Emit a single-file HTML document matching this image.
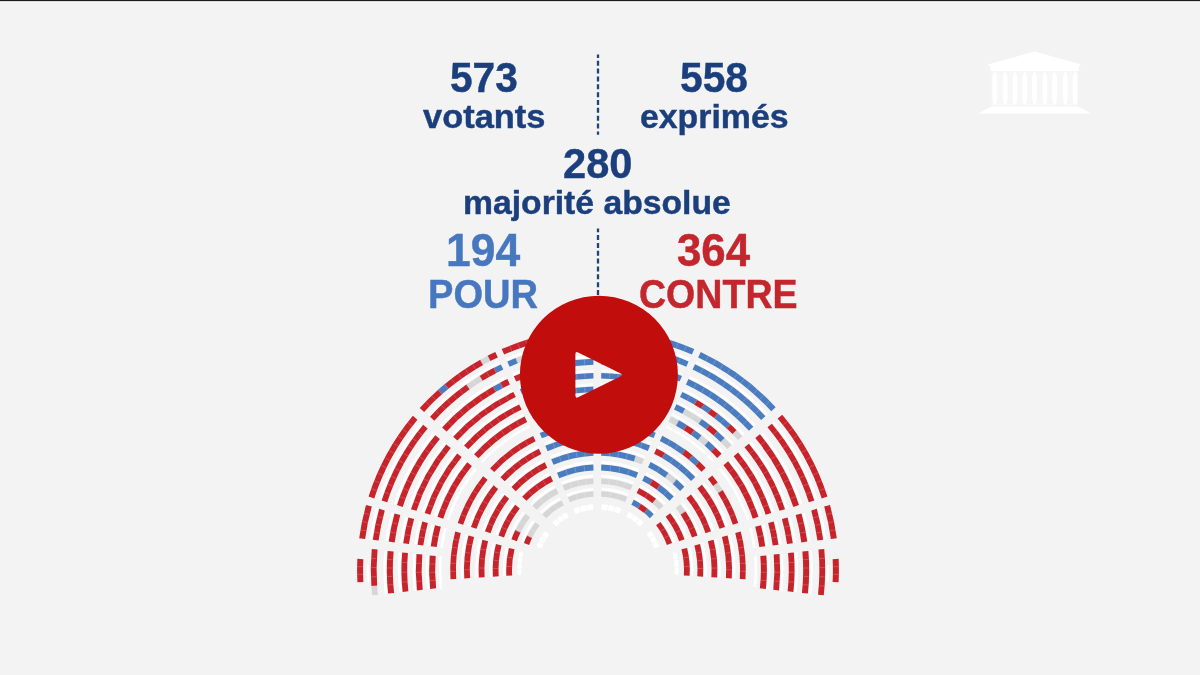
<!DOCTYPE html>
<html lang="fr"><head><meta charset="utf-8"><title>Scrutin public - Assemblée nationale</title>
<style>
html,body{margin:0;padding:0;}
body{width:1200px;height:675px;overflow:hidden;background:#f3f3f3;position:relative;font-family:"Liberation Sans",sans-serif;}
.topbar{position:absolute;left:0;top:0;width:1200px;height:3px;background:linear-gradient(#1c1c1c 0,#1c1c1c 33.3%,#dadada 33.4%,#dadada 66.6%,#f6f6f6 66.7%,#f6f6f6 100%);}
svg.layer{position:absolute;left:0;top:0;}
.t{position:absolute;white-space:nowrap;font-weight:bold;line-height:1;-webkit-text-stroke:0.45px currentColor;filter:blur(0.35px);}
svg.hemi{filter:blur(0.4px);}
svg.ov{filter:blur(0.3px);}
</style></head><body>
<div class="topbar"></div>
<div class="t" style="left:449.70px;top:56.20px;font-size:42.60px;color:#1b3f7d;transform-origin:0 0;transform:scaleX(0.9533)">573</div>
<div class="t" style="left:422.80px;top:99.80px;font-size:33.90px;color:#1b3f7d;transform-origin:0 0;transform:scaleX(1.0160)">votants</div>
<div class="t" style="left:679.90px;top:56.20px;font-size:42.60px;color:#1b3f7d;transform-origin:0 0;transform:scaleX(0.9564)">558</div>
<div class="t" style="left:639.80px;top:99.80px;font-size:33.90px;color:#1b3f7d;transform-origin:0 0;transform:scaleX(0.9980)">exprimés</div>
<div class="t" style="left:563.40px;top:142.40px;font-size:42.60px;color:#1b3f7d;transform-origin:0 0;transform:scaleX(0.9766)">280</div>
<div class="t" style="left:463.20px;top:186.30px;font-size:33.90px;color:#1b3f7d;transform-origin:0 0;transform:scaleX(0.9942)">majorité absolue</div>
<div class="t" style="left:445.70px;top:227.20px;font-size:46.30px;color:#4677bf;transform-origin:0 0;transform:scaleX(0.9597)">194</div>
<div class="t" style="left:427.50px;top:274.40px;font-size:40.80px;color:#4677bf;transform-origin:0 0;transform:scaleX(0.9335)">POUR</div>
<div class="t" style="left:677.40px;top:227.20px;font-size:46.30px;color:#c4262e;transform-origin:0 0;transform:scaleX(0.9462)">364</div>
<div class="t" style="left:639.00px;top:274.40px;font-size:40.80px;color:#c4262e;transform-origin:0 0;transform:scaleX(0.9204)">CONTRE</div>

<svg class="layer hemi" width="1200" height="675" viewBox="0 0 1200 675">
<g class="white">
<path d="M505.96 358.38A230.60 230.81 0 0 1 593.27 339.24L593.32 341.81A228.00 228.24 0 0 0 507.00 360.73Z" fill="#ffffff"/>
<path d="M512.48 373.01A214.60 214.78 0 0 1 593.26 355.27L593.32 357.90A212.00 212.15 0 0 0 513.52 375.42Z" fill="#ffffff"/>
<path d="M518.43 386.16A200.00 200.39 0 0 1 593.25 369.67L593.31 372.18A197.40 197.88 0 0 0 519.46 388.46Z" fill="#ffffff"/>
<path d="M524.30 398.56A185.60 186.80 0 0 1 593.24 383.26L593.31 385.67A183.00 184.39 0 0 0 525.33 400.78Z" fill="#ffffff"/>
<path d="M529.72 410.39A172.30 173.84 0 0 1 593.22 396.22L593.29 398.84A169.70 171.23 0 0 0 530.75 412.79Z" fill="#ffffff"/>
<path d="M534.91 422.52A159.20 160.64 0 0 1 593.59 409.43L593.66 411.95A156.70 158.11 0 0 0 535.90 424.83Z" fill="#ffffff"/>
<path d="M543.95 442.58A137.40 138.59 0 0 1 593.18 431.49L593.27 434.13A134.80 135.95 0 0 0 544.97 445.01Z" fill="#ffffff"/>
<path d="M549.91 456.10A122.80 123.78 0 0 1 593.15 446.31L593.25 448.95A120.20 121.15 0 0 0 550.93 458.53Z" fill="#ffffff"/>
<path d="M555.66 469.47A108.70 109.15 0 0 1 593.12 460.96L593.23 463.70A106.10 106.41 0 0 0 556.68 472.00Z" fill="#ffffff"/>
<path d="M561.18 482.13A95.20 95.29 0 0 1 593.07 474.84L593.21 477.44A92.60 92.68 0 0 0 562.18 484.53Z" fill="#ffffff"/>
<path d="M566.49 494.03A82.20 82.26 0 0 1 593.03 487.90L593.19 490.50A79.60 79.65 0 0 0 567.49 496.43Z" fill="#ffffff"/>
<path d="M427.52 414.58A230.60 230.81 0 0 1 499.41 361.35L500.52 363.67A228.00 228.24 0 0 0 429.44 416.30Z" fill="#ffffff"/>
<path d="M439.62 425.07A214.60 214.78 0 0 1 505.91 376.00L507.03 378.38A212.00 212.15 0 0 0 441.54 426.85Z" fill="#ffffff"/>
<path d="M450.66 434.50A200.00 200.39 0 0 1 511.85 389.16L512.97 391.42A197.40 197.88 0 0 0 452.57 436.19Z" fill="#ffffff"/>
<path d="M461.55 443.38A185.60 186.80 0 0 1 517.70 401.59L518.83 403.76A183.00 184.39 0 0 0 463.46 445.01Z" fill="#ffffff"/>
<path d="M471.61 451.85A172.30 173.84 0 0 1 523.11 413.44L524.24 415.79A169.70 171.23 0 0 0 473.52 453.63Z" fill="#ffffff"/>
<path d="M481.22 460.83A159.20 160.64 0 0 1 528.80 425.33L529.89 427.61A156.70 158.11 0 0 0 483.05 462.54Z" fill="#ffffff"/>
<path d="M498.02 474.93A137.40 138.59 0 0 1 537.28 445.67L538.43 448.04A134.80 135.95 0 0 0 499.91 476.74Z" fill="#ffffff"/>
<path d="M509.08 484.63A122.80 123.78 0 0 1 543.21 459.22L544.37 461.58A120.20 121.15 0 0 0 510.96 486.45Z" fill="#ffffff"/>
<path d="M519.77 494.22A108.70 109.15 0 0 1 548.92 472.61L550.10 475.06A106.10 106.41 0 0 0 521.64 496.12Z" fill="#ffffff"/>
<path d="M530.02 503.29A95.20 95.29 0 0 1 554.39 485.30L555.58 487.62A92.60 92.68 0 0 0 531.88 505.12Z" fill="#ffffff"/>
<path d="M539.90 511.81A82.20 82.26 0 0 1 559.64 497.25L560.86 499.55A79.60 79.65 0 0 0 541.74 513.66Z" fill="#ffffff"/>
<path d="M378.44 499.45A230.60 230.81 0 0 1 420.57 422.57L422.57 424.21A228.00 228.24 0 0 0 380.91 500.23Z" fill="#ffffff"/>
<path d="M393.77 504.04A214.60 214.78 0 0 1 432.65 433.09L434.65 434.77A212.00 212.15 0 0 0 396.24 504.85Z" fill="#ffffff"/>
<path d="M407.76 508.17A200.00 200.39 0 0 1 443.68 442.54L445.68 444.13A197.40 197.88 0 0 0 410.23 508.94Z" fill="#ffffff"/>
<path d="M421.56 512.05A185.60 186.80 0 0 1 454.55 451.47L456.56 453.00A183.00 184.39 0 0 0 424.03 512.79Z" fill="#ffffff"/>
<path d="M434.31 515.74A172.30 173.84 0 0 1 464.59 459.99L466.60 461.65A169.70 171.23 0 0 0 436.78 516.56Z" fill="#ffffff"/>
<path d="M446.75 519.87A159.20 160.64 0 0 1 474.73 468.35L476.67 469.95A156.70 158.11 0 0 0 449.13 520.66Z" fill="#ffffff"/>
<path d="M467.76 525.84A137.40 138.59 0 0 1 490.93 483.14L492.96 484.80A134.80 135.95 0 0 0 470.23 526.68Z" fill="#ffffff"/>
<path d="M481.76 530.08A122.80 123.78 0 0 1 501.95 492.88L503.98 494.52A120.20 121.15 0 0 0 484.22 530.93Z" fill="#ffffff"/>
<path d="M495.29 534.27A108.70 109.15 0 0 1 512.59 502.49L514.63 504.19A106.10 106.41 0 0 0 497.74 535.17Z" fill="#ffffff"/>
<path d="M508.25 538.24A95.20 95.29 0 0 1 522.77 511.61L524.82 513.21A92.60 92.68 0 0 0 510.70 539.10Z" fill="#ffffff"/>
<path d="M520.73 541.95A82.20 82.26 0 0 1 532.57 520.20L534.64 521.78A79.60 79.65 0 0 0 523.17 542.84Z" fill="#ffffff"/>
<path d="M369.44 539.37A230.60 230.81 0 0 1 375.90 507.93L378.40 508.62A228.00 228.24 0 0 0 372.02 539.71Z" fill="#ffffff"/>
<path d="M385.34 541.16A214.60 214.78 0 0 1 391.22 512.54L393.73 513.25A212.00 212.15 0 0 0 387.92 541.52Z" fill="#ffffff"/>
<path d="M399.86 542.77A200.00 200.39 0 0 1 405.21 516.69L407.71 517.36A197.40 197.88 0 0 0 402.43 543.11Z" fill="#ffffff"/>
<path d="M414.17 544.26A185.60 186.80 0 0 1 419.00 520.63L421.51 521.27A183.00 184.39 0 0 0 416.75 544.59Z" fill="#ffffff"/>
<path d="M427.39 545.69A172.30 173.84 0 0 1 431.74 524.38L434.25 525.06A169.70 171.23 0 0 0 429.97 546.05Z" fill="#ffffff"/>
<path d="M440.36 547.54A159.20 160.64 0 0 1 444.38 527.84L446.79 528.51A156.70 158.11 0 0 0 442.84 547.89Z" fill="#ffffff"/>
<path d="M384.74 593.94A214.60 214.78 0 0 1 384.28 550.59L386.87 550.83A212.00 212.15 0 0 0 387.32 593.65Z" fill="#ffffff"/>
<path d="M399.25 592.34A200.00 200.39 0 0 1 398.79 552.22L401.38 552.45A197.40 197.88 0 0 0 401.83 592.06Z" fill="#ffffff"/>
<path d="M413.56 590.82A185.60 186.80 0 0 1 413.10 553.78L415.69 553.99A183.00 184.39 0 0 0 416.14 590.55Z" fill="#ffffff"/>
<path d="M426.77 589.38A172.30 173.84 0 0 1 426.32 555.27L428.91 555.49A169.70 171.23 0 0 0 429.36 589.09Z" fill="#ffffff"/>
<path d="M439.92 589.02A159.20 160.64 0 0 1 439.37 556.39L441.86 556.60A156.70 158.11 0 0 0 442.40 588.72Z" fill="#ffffff"/>
<path d="M367.20 581.70A231.10 231.30 0 0 1 366.95 565.16L369.45 565.21A228.60 228.83 0 0 0 369.69 581.58Z" fill="#ffffff"/>
<path d="M460.87 578.70A137.40 138.59 0 0 1 465.17 534.55L467.68 535.22A134.80 135.95 0 0 0 463.47 578.54Z" fill="#ffffff"/>
<path d="M475.44 577.77A122.80 123.78 0 0 1 479.16 538.83L481.67 539.49A120.20 121.15 0 0 0 478.04 577.61Z" fill="#ffffff"/>
<path d="M489.51 576.85A108.70 109.15 0 0 1 492.66 543.05L495.18 543.73A106.10 106.41 0 0 0 492.11 576.68Z" fill="#ffffff"/>
<path d="M502.99 575.98A95.20 95.29 0 0 1 505.60 547.06L508.12 547.69A92.60 92.68 0 0 0 505.58 575.82Z" fill="#ffffff"/>
<path d="M601.29 339.22A230.60 230.81 0 0 1 689.97 358.35L688.94 360.70A228.00 228.24 0 0 0 601.25 341.78Z" fill="#ffffff"/>
<path d="M601.30 355.24A214.60 214.78 0 0 1 683.35 372.94L682.32 375.35A212.00 212.15 0 0 0 601.26 357.88Z" fill="#ffffff"/>
<path d="M601.30 369.64A200.00 200.39 0 0 1 677.32 386.05L676.29 388.35A197.40 197.88 0 0 0 601.26 372.15Z" fill="#ffffff"/>
<path d="M601.31 383.23A185.60 186.80 0 0 1 671.36 398.41L670.33 400.63A183.00 184.39 0 0 0 601.27 385.64Z" fill="#ffffff"/>
<path d="M601.32 396.19A172.30 173.84 0 0 1 665.85 410.20L664.83 412.61A169.70 171.23 0 0 0 601.27 398.81Z" fill="#ffffff"/>
<path d="M601.07 409.39A159.20 160.64 0 0 1 660.69 422.34L659.71 424.66A156.70 158.11 0 0 0 601.02 411.92Z" fill="#ffffff"/>
<path d="M601.35 431.45A137.40 138.59 0 0 1 651.40 442.30L650.39 444.73A134.80 135.95 0 0 0 601.29 434.09Z" fill="#ffffff"/>
<path d="M601.37 446.26A122.80 123.78 0 0 1 645.35 455.79L644.34 458.22A120.20 121.15 0 0 0 601.30 448.90Z" fill="#ffffff"/>
<path d="M601.40 460.91A108.70 109.15 0 0 1 639.49 469.12L638.50 471.65A106.10 106.41 0 0 0 601.32 463.65Z" fill="#ffffff"/>
<path d="M601.43 474.77A95.20 95.29 0 0 1 633.88 481.74L632.90 484.15A92.60 92.68 0 0 0 601.33 477.38Z" fill="#ffffff"/>
<path d="M601.46 487.82A82.20 82.26 0 0 1 628.48 493.61L627.51 496.03A79.60 79.65 0 0 0 601.35 490.42Z" fill="#ffffff"/>
<path d="M696.53 361.32A230.60 230.81 0 0 1 767.88 413.92L765.96 415.65A228.00 228.24 0 0 0 695.42 363.64Z" fill="#ffffff"/>
<path d="M689.93 375.92A214.60 214.78 0 0 1 755.84 424.48L753.93 426.27A212.00 212.15 0 0 0 688.81 378.30Z" fill="#ffffff"/>
<path d="M683.90 389.04A200.00 200.39 0 0 1 744.87 433.98L742.96 435.68A197.40 197.88 0 0 0 682.78 391.30Z" fill="#ffffff"/>
<path d="M677.96 401.42A185.60 186.80 0 0 1 734.03 442.92L732.13 444.56A183.00 184.39 0 0 0 676.84 403.60Z" fill="#ffffff"/>
<path d="M672.47 413.23A172.30 173.84 0 0 1 724.03 451.45L722.13 453.24A169.70 171.23 0 0 0 671.35 415.59Z" fill="#ffffff"/>
<path d="M666.81 425.14A159.20 160.64 0 0 1 714.45 460.46L712.62 462.18A156.70 158.11 0 0 0 665.73 427.42Z" fill="#ffffff"/>
<path d="M658.08 445.36A137.40 138.59 0 0 1 697.76 474.70L695.87 476.52A134.80 135.95 0 0 0 656.94 447.73Z" fill="#ffffff"/>
<path d="M652.07 458.86A122.80 123.78 0 0 1 686.76 484.46L684.89 486.29A120.20 121.15 0 0 0 650.92 461.23Z" fill="#ffffff"/>
<path d="M646.26 472.20A108.70 109.15 0 0 1 676.14 494.12L674.27 496.03A106.10 106.41 0 0 0 645.11 474.66Z" fill="#ffffff"/>
<path d="M640.71 484.84A95.20 95.29 0 0 1 665.95 503.26L664.09 505.09A92.60 92.68 0 0 0 639.54 487.17Z" fill="#ffffff"/>
<path d="M635.37 496.73A82.20 82.26 0 0 1 656.13 511.84L654.29 513.69A79.60 79.65 0 0 0 634.18 499.06Z" fill="#ffffff"/>
<path d="M774.53 421.49A230.60 230.81 0 0 1 817.56 499.45L815.09 500.23A228.00 228.24 0 0 0 772.53 423.14Z" fill="#ffffff"/>
<path d="M762.51 432.08A214.60 214.78 0 0 1 802.23 504.04L799.76 504.85A212.00 212.15 0 0 0 760.52 433.77Z" fill="#ffffff"/>
<path d="M751.54 441.60A200.00 200.39 0 0 1 788.24 508.17L785.77 508.94A197.40 197.88 0 0 0 749.55 443.20Z" fill="#ffffff"/>
<path d="M740.73 450.59A185.60 186.80 0 0 1 774.44 512.05L771.97 512.79A183.00 184.39 0 0 0 738.73 452.14Z" fill="#ffffff"/>
<path d="M730.75 459.17A172.30 173.84 0 0 1 761.69 515.74L759.22 516.56A169.70 171.23 0 0 0 728.74 460.84Z" fill="#ffffff"/>
<path d="M720.65 467.59A159.20 160.64 0 0 1 749.25 519.87L746.87 520.66A156.70 158.11 0 0 0 718.73 469.20Z" fill="#ffffff"/>
<path d="M704.54 482.48A137.40 138.59 0 0 1 728.24 525.84L725.77 526.68A134.80 135.95 0 0 0 702.52 484.15Z" fill="#ffffff"/>
<path d="M693.58 492.29A122.80 123.78 0 0 1 714.24 530.08L711.78 530.93A120.20 121.15 0 0 0 691.56 493.94Z" fill="#ffffff"/>
<path d="M683.00 501.97A108.70 109.15 0 0 1 700.71 534.27L698.26 535.17A106.10 106.41 0 0 0 680.97 503.68Z" fill="#ffffff"/>
<path d="M672.87 511.15A95.20 95.29 0 0 1 687.75 538.24L685.30 539.10A92.60 92.68 0 0 0 670.83 512.76Z" fill="#ffffff"/>
<path d="M663.12 519.81A82.20 82.26 0 0 1 675.27 541.95L672.83 542.84A79.60 79.65 0 0 0 661.06 521.40Z" fill="#ffffff"/>
<path d="M820.10 507.93A230.60 230.81 0 0 1 826.56 539.37L823.98 539.71A228.00 228.24 0 0 0 817.60 508.62Z" fill="#ffffff"/>
<path d="M804.78 512.54A214.60 214.78 0 0 1 810.66 541.16L808.08 541.52A212.00 212.15 0 0 0 802.27 513.25Z" fill="#ffffff"/>
<path d="M790.79 516.69A200.00 200.39 0 0 1 796.14 542.77L793.57 543.11A197.40 197.88 0 0 0 788.29 517.36Z" fill="#ffffff"/>
<path d="M777.00 520.63A185.60 186.80 0 0 1 781.83 544.26L779.25 544.59A183.00 184.39 0 0 0 774.49 521.27Z" fill="#ffffff"/>
<path d="M764.26 524.38A172.30 173.84 0 0 1 768.61 545.69L766.03 546.05A169.70 171.23 0 0 0 761.75 525.06Z" fill="#ffffff"/>
<path d="M751.62 527.84A159.20 160.64 0 0 1 755.64 547.54L753.16 547.89A156.70 158.11 0 0 0 749.21 528.51Z" fill="#ffffff"/>
<path d="M811.72 550.59A214.60 214.78 0 0 1 811.26 593.94L808.68 593.65A212.00 212.15 0 0 0 809.13 550.83Z" fill="#ffffff"/>
<path d="M797.21 552.22A200.00 200.39 0 0 1 796.75 592.34L794.17 592.06A197.40 197.88 0 0 0 794.62 552.45Z" fill="#ffffff"/>
<path d="M782.90 553.78A185.60 186.80 0 0 1 782.44 590.82L779.86 590.55A183.00 184.39 0 0 0 780.31 553.99Z" fill="#ffffff"/>
<path d="M769.68 555.27A172.30 173.84 0 0 1 769.23 589.38L766.64 589.09A169.70 171.23 0 0 0 767.09 555.49Z" fill="#ffffff"/>
<path d="M756.63 556.39A159.20 160.64 0 0 1 756.33 586.79L753.84 586.53A156.70 158.11 0 0 0 754.14 556.60Z" fill="#ffffff"/>
<path d="M829.05 565.16A231.10 231.30 0 0 1 828.80 581.70L826.31 581.58A228.60 228.83 0 0 0 826.55 565.21Z" fill="#ffffff"/>
<path d="M730.83 534.55A137.40 138.59 0 0 1 735.13 578.70L732.53 578.54A134.80 135.95 0 0 0 728.32 535.22Z" fill="#ffffff"/>
<path d="M716.84 538.83A122.80 123.78 0 0 1 720.56 577.77L717.96 577.61A120.20 121.15 0 0 0 714.33 539.49Z" fill="#ffffff"/>
<path d="M703.34 543.05A108.70 109.15 0 0 1 706.49 576.85L703.89 576.68A106.10 106.41 0 0 0 700.82 543.73Z" fill="#ffffff"/>
<path d="M690.40 547.06A95.20 95.29 0 0 1 693.01 575.98L690.42 575.82A92.60 92.68 0 0 0 687.88 547.69Z" fill="#ffffff"/>
</g>
<g class="sq" stroke="#ffffff" stroke-width="1.4" stroke-linejoin="round">
<path d="M587.53 505.63A65.20 65.21 0 0 1 592.17 505.05L592.54 509.14A61.10 61.10 0 0 0 588.19 509.69Z" fill="#ffffff"/>
<path d="M580.84 507.09A65.20 65.21 0 0 1 585.39 506.02L586.19 510.05A61.10 61.10 0 0 0 581.92 511.05Z" fill="#ffffff"/>
<path d="M574.34 509.23A65.20 65.21 0 0 1 578.76 507.69L579.97 511.62A61.10 61.10 0 0 0 575.82 513.06Z" fill="#ffffff"/>
<path d="M562.66 515.20A65.20 65.21 0 0 1 565.85 513.27L567.87 516.84A61.10 61.10 0 0 0 564.88 518.65Z" fill="#ffffff"/>
<path d="M557.85 518.62A65.20 65.21 0 0 1 560.86 516.40L563.19 519.78A61.10 61.10 0 0 0 560.38 521.85Z" fill="#ffffff"/>
<path d="M553.37 522.46A65.20 65.21 0 0 1 556.17 519.98L558.80 523.13A61.10 61.10 0 0 0 556.18 525.45Z" fill="#ffffff"/>
<path d="M542.80 535.29A65.20 65.21 0 0 1 544.95 532.09L548.29 534.48A61.10 61.10 0 0 0 546.27 537.48Z" fill="#ffffff"/>
<path d="M539.83 540.54A65.20 65.21 0 0 1 541.68 537.15L545.22 539.22A61.10 61.10 0 0 0 543.49 542.40Z" fill="#ffffff"/>
<path d="M537.36 546.04A65.20 65.21 0 0 1 538.88 542.49L542.60 544.23A61.10 61.10 0 0 0 541.17 547.55Z" fill="#ffffff"/>
<path d="M519.22 556.05A80.00 80.05 0 0 1 519.99 552.27L522.72 552.89A77.20 77.24 0 0 0 521.98 556.54Z" fill="#ffffff"/>
<path d="M518.40 561.98A80.00 80.05 0 0 1 518.88 558.16L521.65 558.57A77.20 77.24 0 0 0 521.19 562.26Z" fill="#ffffff"/>
<path d="M518.03 567.97A80.00 80.05 0 0 1 518.22 564.11L521.01 564.32A77.20 77.24 0 0 0 520.82 568.04Z" fill="#ffffff"/>
<path d="M518.10 573.96A80.00 80.05 0 0 1 518.00 570.10L520.80 570.10A77.20 77.24 0 0 0 520.89 573.82Z" fill="#ffffff"/>
<path d="M602.39 504.93A65.20 65.21 0 0 1 607.14 505.43L606.56 509.50A61.10 61.10 0 0 0 602.11 509.04Z" fill="#ffffff"/>
<path d="M609.28 505.77A65.20 65.21 0 0 1 613.95 506.77L612.95 510.75A61.10 61.10 0 0 0 608.57 509.82Z" fill="#ffffff"/>
<path d="M616.05 507.34A65.20 65.21 0 0 1 620.59 508.83L619.17 512.68A61.10 61.10 0 0 0 614.91 511.28Z" fill="#ffffff"/>
<path d="M629.14 512.71A65.20 65.21 0 0 1 632.73 514.81L630.54 518.29A61.10 61.10 0 0 0 627.18 516.32Z" fill="#ffffff"/>
<path d="M634.54 515.99A65.20 65.21 0 0 1 637.91 518.43L635.40 521.68A61.10 61.10 0 0 0 632.24 519.40Z" fill="#ffffff"/>
<path d="M639.60 519.79A65.20 65.21 0 0 1 642.71 522.54L639.90 525.53A61.10 61.10 0 0 0 636.98 522.95Z" fill="#ffffff"/>
<path d="M650.82 531.76A65.20 65.21 0 0 1 653.06 535.07L649.60 537.27A61.10 61.10 0 0 0 647.50 534.17Z" fill="#ffffff"/>
<path d="M654.19 536.92A65.20 65.21 0 0 1 656.11 540.42L652.45 542.29A61.10 61.10 0 0 0 650.66 539.00Z" fill="#ffffff"/>
<path d="M657.06 542.37A65.20 65.21 0 0 1 658.64 546.04L654.83 547.55A61.10 61.10 0 0 0 653.35 544.11Z" fill="#ffffff"/>
<path d="M676.01 552.27A80.00 80.05 0 0 1 677.10 558.02L674.33 558.44A77.20 77.24 0 0 0 673.28 552.89Z" fill="#ffffff"/>
<path d="M677.39 560.14A80.00 80.05 0 0 1 677.90 565.97L675.10 566.11A77.20 77.24 0 0 0 674.61 560.48Z" fill="#ffffff"/>
<path d="M677.98 568.11A80.00 80.05 0 0 1 677.90 573.96L675.11 573.82A77.20 77.24 0 0 0 675.18 568.17Z" fill="#ffffff"/>
</g>
<g class="gray">
<path d="M515.51 358.07A227.20 227.45 0 0 1 524.07 354.93L525.95 360.40A221.40 221.67 0 0 0 517.61 363.46Z" fill="#d6d6d6"/>
<path d="M562.49 485.27A91.80 91.88 0 0 1 593.25 478.24L593.55 484.05A86.00 86.06 0 0 0 564.74 490.63Z" fill="#d6d6d6"/>
<path d="M567.80 497.17A78.80 78.85 0 0 1 593.23 491.30L593.57 496.80A73.30 73.33 0 0 0 569.90 502.27Z" fill="#d6d6d6"/>
<path d="M479.99 359.90A240.90 241.00 0 0 1 487.79 355.70L490.54 361.00A234.90 235.04 0 0 0 482.93 365.09Z" fill="#d6d6d6"/>
<path d="M466.14 384.77A227.20 227.45 0 0 1 479.81 375.75L482.83 380.69A221.40 221.67 0 0 0 469.51 389.48Z" fill="#d6d6d6"/>
<path d="M532.45 505.68A91.80 91.88 0 0 1 555.94 488.33L558.60 493.50A86.00 86.06 0 0 0 536.59 509.75Z" fill="#d6d6d6"/>
<path d="M542.30 514.23A78.80 78.85 0 0 1 561.23 500.26L563.80 505.14A73.30 73.33 0 0 0 546.19 518.13Z" fill="#d6d6d6"/>
<path d="M515.20 530.33A91.80 91.88 0 0 1 525.45 513.70L530.04 517.26A86.00 86.06 0 0 0 520.43 532.84Z" fill="#d6d6d6"/>
<path d="M527.00 535.79A78.80 78.85 0 0 1 535.28 522.27L539.66 525.61A73.30 73.33 0 0 0 531.96 538.18Z" fill="#d6d6d6"/>
<path d="M372.22 595.35A227.20 227.45 0 0 1 371.35 585.87L377.14 585.47A221.40 221.67 0 0 0 377.98 594.71Z" fill="#d6d6d6"/>
<path d="M635.56 455.77A119.40 120.33 0 0 1 644.04 458.97L641.80 464.52A113.60 114.31 0 0 0 633.73 461.49Z" fill="#d6d6d6"/>
<path d="M601.30 478.18A91.80 91.88 0 0 1 632.60 484.90L630.42 490.28A86.00 86.06 0 0 0 601.10 483.99Z" fill="#d6d6d6"/>
<path d="M601.32 491.22A78.80 78.85 0 0 1 627.22 496.77L625.18 501.89A73.30 73.33 0 0 0 601.08 496.73Z" fill="#d6d6d6"/>
<path d="M736.42 430.02A196.60 197.11 0 0 1 742.37 436.20L738.11 439.92A190.80 191.63 0 0 0 732.33 433.91Z" fill="#d6d6d6"/>
<path d="M685.01 408.65A182.20 183.64 0 0 1 701.94 419.17L698.63 423.83A176.40 177.97 0 0 0 682.24 413.63Z" fill="#d6d6d6"/>
<path d="M724.49 437.82A182.20 183.64 0 0 1 731.54 445.07L727.29 448.93A176.40 177.97 0 0 0 720.46 441.90Z" fill="#d6d6d6"/>
<path d="M671.00 416.32A168.90 170.42 0 0 1 679.02 420.47L676.14 425.78A162.90 164.37 0 0 0 668.41 421.78Z" fill="#d6d6d6"/>
<path d="M701.40 435.25A168.90 170.42 0 0 1 708.57 441.17L704.64 445.75A162.90 164.37 0 0 0 697.73 440.03Z" fill="#d6d6d6"/>
<path d="M668.32 472.75A119.40 120.33 0 0 1 676.72 479.52L672.90 484.05A113.60 114.31 0 0 0 664.90 477.61Z" fill="#d6d6d6"/>
<path d="M655.88 498.68A91.80 91.88 0 0 1 663.52 505.65L659.38 509.72A86.00 86.06 0 0 0 652.22 503.19Z" fill="#d6d6d6"/>
<path d="M717.62 482.41A147.80 149.13 0 0 1 722.83 490.15L718.01 493.24A142.10 143.36 0 0 0 713.01 485.80Z" fill="#d6d6d6"/>
<path d="M680.34 504.19A105.30 105.58 0 0 1 685.61 511.43L680.78 514.75A99.50 99.60 0 0 0 675.81 507.92Z" fill="#d6d6d6"/>
</g>
<g class="blue">
<path d="M523.83 355.01A227.20 227.45 0 0 1 593.34 342.59L593.46 348.38A221.40 221.67 0 0 0 525.72 360.48Z" fill="#4b7cc0"/>
<path d="M507.32 361.45A227.20 227.45 0 0 1 515.74 357.98L517.84 363.37A221.40 221.67 0 0 0 509.63 366.75Z" fill="#4b7cc0"/>
<path d="M522.26 372.72A211.20 211.34 0 0 1 593.33 358.71L593.47 364.65A205.20 205.40 0 0 0 524.41 378.26Z" fill="#4b7cc0"/>
<path d="M519.78 389.16A196.60 197.11 0 0 1 593.33 372.95L593.47 378.43A190.80 191.63 0 0 0 522.09 394.19Z" fill="#4b7cc0"/>
<path d="M525.65 401.46A182.20 183.64 0 0 1 593.33 386.42L593.47 392.08A176.40 177.97 0 0 0 527.95 406.66Z" fill="#4b7cc0"/>
<path d="M531.07 413.53A168.90 170.42 0 0 1 593.32 399.64L593.48 405.69A162.90 164.37 0 0 0 533.45 419.09Z" fill="#4b7cc0"/>
<path d="M539.66 432.98A147.80 149.13 0 0 1 593.31 420.95L593.49 426.71A142.10 143.36 0 0 0 541.91 438.28Z" fill="#4b7cc0"/>
<path d="M545.29 445.75A134.00 135.14 0 0 1 593.30 434.94L593.50 440.82A128.20 129.26 0 0 0 547.57 451.16Z" fill="#4b7cc0"/>
<path d="M551.24 459.28A119.40 120.33 0 0 1 593.29 449.76L593.51 455.77A113.60 114.31 0 0 0 553.51 464.82Z" fill="#4b7cc0"/>
<path d="M556.99 472.76A105.30 105.58 0 0 1 593.27 464.53L593.53 470.50A99.50 99.60 0 0 0 559.25 478.27Z" fill="#4b7cc0"/>
<path d="M438.03 389.81A240.90 241.00 0 0 1 444.76 384.05L448.57 388.64A234.90 235.04 0 0 0 442.01 394.26Z" fill="#4b7cc0"/>
<path d="M493.64 367.96A227.20 227.45 0 0 1 500.86 364.38L503.34 369.61A221.40 221.67 0 0 0 496.30 373.10Z" fill="#4b7cc0"/>
<path d="M492.90 386.68A211.20 211.34 0 0 1 500.29 382.64L503.06 387.90A205.20 205.40 0 0 0 495.89 391.84Z" fill="#4b7cc0"/>
<path d="M601.24 329.02A240.90 241.00 0 0 1 694.28 349.08L691.88 354.54A234.90 235.04 0 0 0 601.16 334.98Z" fill="#4b7cc0"/>
<path d="M601.24 342.57A227.20 227.45 0 0 1 688.62 361.42L686.30 366.73A221.40 221.67 0 0 0 601.16 348.36Z" fill="#4b7cc0"/>
<path d="M601.25 358.68A211.20 211.34 0 0 1 682.00 376.10L679.62 381.55A205.20 205.40 0 0 0 601.15 364.62Z" fill="#4b7cc0"/>
<path d="M601.25 372.92A196.60 197.11 0 0 1 675.97 389.06L673.67 394.09A190.80 191.63 0 0 0 601.15 378.40Z" fill="#4b7cc0"/>
<path d="M601.25 386.39A182.20 183.64 0 0 1 670.01 401.31L667.72 406.52A176.40 177.97 0 0 0 601.15 392.05Z" fill="#4b7cc0"/>
<path d="M601.26 399.61A168.90 170.42 0 0 1 664.51 413.35L662.15 418.91A162.90 164.37 0 0 0 601.14 405.66Z" fill="#4b7cc0"/>
<path d="M601.26 420.91A147.80 149.13 0 0 1 655.79 432.74L653.56 438.05A142.10 143.36 0 0 0 601.14 426.68Z" fill="#4b7cc0"/>
<path d="M601.27 434.90A134.00 135.14 0 0 1 650.08 445.48L647.82 450.90A128.20 129.26 0 0 0 601.13 440.78Z" fill="#4b7cc0"/>
<path d="M601.28 449.71A119.40 120.33 0 0 1 635.80 455.86L633.97 461.57A113.60 114.31 0 0 0 601.12 455.73Z" fill="#4b7cc0"/>
<path d="M601.29 464.47A105.30 105.58 0 0 1 638.20 472.42L635.98 477.94A99.50 99.60 0 0 0 601.11 470.45Z" fill="#4b7cc0"/>
<path d="M700.73 352.01A240.90 241.00 0 0 1 775.67 407.24L771.24 411.27A234.90 235.04 0 0 0 698.17 357.40Z" fill="#4b7cc0"/>
<path d="M695.07 364.35A227.20 227.45 0 0 1 765.37 416.18L761.10 420.10A221.40 221.67 0 0 0 692.60 369.58Z" fill="#4b7cc0"/>
<path d="M688.47 379.03A211.20 211.34 0 0 1 753.34 426.82L748.93 430.84A205.20 205.40 0 0 0 685.90 384.40Z" fill="#4b7cc0"/>
<path d="M682.44 392.00A196.60 197.11 0 0 1 697.14 399.79L694.22 404.52A190.80 191.63 0 0 0 679.95 396.95Z" fill="#4b7cc0"/>
<path d="M704.02 404.01A196.60 197.11 0 0 1 711.13 408.80L707.80 413.28A190.80 191.63 0 0 0 700.89 408.62Z" fill="#4b7cc0"/>
<path d="M717.63 413.58A196.60 197.11 0 0 1 730.57 424.45L726.66 428.50A190.80 191.63 0 0 0 714.10 417.93Z" fill="#4b7cc0"/>
<path d="M676.49 404.27A182.20 183.64 0 0 1 685.24 408.77L682.46 413.75A176.40 177.97 0 0 0 673.99 409.39Z" fill="#4b7cc0"/>
<path d="M701.73 419.02A182.20 183.64 0 0 1 709.85 425.03L706.29 429.51A176.40 177.97 0 0 0 698.43 423.68Z" fill="#4b7cc0"/>
<path d="M717.24 431.15A182.20 183.64 0 0 1 724.67 438.00L720.64 442.08A176.40 177.97 0 0 0 713.45 435.43Z" fill="#4b7cc0"/>
<path d="M678.80 420.34A168.90 170.42 0 0 1 686.81 425.04L683.65 430.19A162.90 164.37 0 0 0 675.93 425.66Z" fill="#4b7cc0"/>
<path d="M694.14 429.88A168.90 170.42 0 0 1 701.61 435.41L697.92 440.19A162.90 164.37 0 0 0 690.72 434.85Z" fill="#4b7cc0"/>
<path d="M708.38 441.01A168.90 170.42 0 0 1 715.22 447.31L711.06 451.66A162.90 164.37 0 0 0 704.46 445.59Z" fill="#4b7cc0"/>
<path d="M662.29 435.72A147.80 149.13 0 0 1 685.44 449.77L682.07 454.42A142.10 143.36 0 0 0 659.81 440.91Z" fill="#4b7cc0"/>
<path d="M692.35 455.21A147.80 149.13 0 0 1 699.30 461.41L695.39 465.61A142.10 143.36 0 0 0 688.71 459.65Z" fill="#4b7cc0"/>
<path d="M664.89 452.90A134.00 135.14 0 0 1 695.29 477.07L691.08 481.12A128.20 129.26 0 0 0 662.00 458.00Z" fill="#4b7cc0"/>
<path d="M650.57 461.96A119.40 120.33 0 0 1 668.53 472.90L665.10 477.76A113.60 114.31 0 0 0 648.02 467.36Z" fill="#4b7cc0"/>
<path d="M676.53 479.35A119.40 120.33 0 0 1 684.31 486.85L680.11 491.01A113.60 114.31 0 0 0 672.71 483.89Z" fill="#4b7cc0"/>
<path d="M644.75 475.40A105.30 105.58 0 0 1 652.64 479.75L649.63 484.86A99.50 99.60 0 0 0 642.18 480.76Z" fill="#4b7cc0"/>
<path d="M659.92 484.61A105.30 105.58 0 0 1 673.69 496.60L669.52 500.76A99.50 99.60 0 0 0 656.51 489.44Z" fill="#4b7cc0"/>
<path d="M633.82 499.77A78.80 78.85 0 0 1 640.95 503.89L637.95 508.52A73.30 73.33 0 0 0 631.32 504.68Z" fill="#4b7cc0"/>
<path d="M647.41 508.58A78.80 78.85 0 0 1 653.73 514.25L649.84 518.15A73.30 73.33 0 0 0 643.96 512.87Z" fill="#4b7cc0"/>
</g>
<g class="red">
<path d="M501.74 349.08A240.90 241.00 0 0 1 593.34 329.05L593.46 335.00A234.90 235.04 0 0 0 504.13 354.54Z" fill="#c6232b"/>
<path d="M513.83 376.17A211.20 211.34 0 0 1 522.49 372.63L524.64 378.18A205.20 205.40 0 0 0 516.23 381.61Z" fill="#c6232b"/>
<path d="M487.57 355.82A240.90 241.00 0 0 1 495.28 352.01L497.84 357.39A234.90 235.04 0 0 0 490.32 361.11Z" fill="#c6232b"/>
<path d="M444.56 384.21A240.90 241.00 0 0 1 480.21 359.77L483.15 364.97A234.90 235.04 0 0 0 448.38 388.80Z" fill="#c6232b"/>
<path d="M419.68 407.96A240.90 241.00 0 0 1 438.22 389.64L442.20 394.10A234.90 235.04 0 0 0 424.12 411.96Z" fill="#c6232b"/>
<path d="M479.59 375.88A227.20 227.45 0 0 1 493.86 367.85L496.52 372.99A221.40 221.67 0 0 0 482.62 380.82Z" fill="#c6232b"/>
<path d="M430.03 416.83A227.20 227.45 0 0 1 466.35 384.62L469.71 389.34A221.40 221.67 0 0 0 434.32 420.73Z" fill="#c6232b"/>
<path d="M500.06 382.76A211.20 211.34 0 0 1 507.37 379.11L509.94 384.47A205.20 205.40 0 0 0 502.85 388.02Z" fill="#c6232b"/>
<path d="M442.13 427.39A211.20 211.34 0 0 1 493.12 386.56L496.10 391.71A205.20 205.40 0 0 0 446.56 431.40Z" fill="#c6232b"/>
<path d="M453.16 436.72A196.60 197.11 0 0 1 513.31 392.12L515.81 397.06A190.80 191.63 0 0 0 457.43 440.42Z" fill="#c6232b"/>
<path d="M464.05 445.52A182.20 183.64 0 0 1 519.18 404.43L521.68 409.54A176.40 177.97 0 0 0 468.31 449.36Z" fill="#c6232b"/>
<path d="M474.10 454.18A168.90 170.42 0 0 1 524.59 416.52L527.19 421.97A162.90 164.37 0 0 0 478.50 458.29Z" fill="#c6232b"/>
<path d="M490.06 468.13A147.80 149.13 0 0 1 533.17 435.98L535.67 441.17A142.10 143.36 0 0 0 494.22 472.07Z" fill="#c6232b"/>
<path d="M500.50 477.30A134.00 135.14 0 0 1 538.79 448.77L541.35 454.04A128.20 129.26 0 0 0 504.72 481.33Z" fill="#c6232b"/>
<path d="M511.54 487.00A119.40 120.33 0 0 1 544.72 462.31L547.31 467.70A113.60 114.31 0 0 0 515.74 491.16Z" fill="#c6232b"/>
<path d="M522.22 496.70A105.30 105.58 0 0 1 550.46 475.80L553.08 481.13A99.50 99.60 0 0 0 526.39 500.85Z" fill="#c6232b"/>
<path d="M368.55 496.59A240.90 241.00 0 0 1 412.84 415.83L417.45 419.64A234.90 235.04 0 0 0 374.26 498.40Z" fill="#c6232b"/>
<path d="M381.67 500.47A227.20 227.45 0 0 1 423.19 424.71L427.65 428.41A221.40 221.67 0 0 0 387.20 502.24Z" fill="#c6232b"/>
<path d="M397.00 505.10A211.20 211.34 0 0 1 435.27 435.28L439.89 439.07A205.20 205.40 0 0 0 402.71 506.93Z" fill="#c6232b"/>
<path d="M410.99 509.18A196.60 197.11 0 0 1 446.30 444.62L450.77 448.11A190.80 191.63 0 0 0 416.51 510.87Z" fill="#c6232b"/>
<path d="M424.79 513.03A182.20 183.64 0 0 1 457.18 453.48L461.66 457.07A176.40 177.97 0 0 0 430.30 514.78Z" fill="#c6232b"/>
<path d="M437.54 516.81A168.90 170.42 0 0 1 467.22 462.16L471.86 465.99A162.90 164.37 0 0 0 443.24 518.70Z" fill="#c6232b"/>
<path d="M457.76 522.93A147.80 149.13 0 0 1 483.16 476.13L487.59 479.76A142.10 143.36 0 0 0 463.16 524.75Z" fill="#c6232b"/>
<path d="M470.98 526.94A134.00 135.14 0 0 1 493.58 485.30L498.10 488.99A128.20 129.26 0 0 0 476.48 528.81Z" fill="#c6232b"/>
<path d="M484.98 531.19A119.40 120.33 0 0 1 504.61 495.03L509.14 498.78A113.60 114.31 0 0 0 490.47 533.13Z" fill="#c6232b"/>
<path d="M498.50 535.44A105.30 105.58 0 0 1 515.26 504.70L519.82 508.40A99.50 99.60 0 0 0 503.98 537.40Z" fill="#c6232b"/>
<path d="M511.45 539.37A91.80 91.88 0 0 1 515.31 530.10L520.53 532.62A86.00 86.06 0 0 0 516.92 541.31Z" fill="#c6232b"/>
<path d="M523.92 543.11A78.80 78.85 0 0 1 527.12 535.56L532.06 537.97A73.30 73.33 0 0 0 529.09 544.99Z" fill="#c6232b"/>
<path d="M359.19 538.30A240.90 241.00 0 0 1 366.05 504.93L371.82 506.54A234.90 235.04 0 0 0 365.14 539.08Z" fill="#c6232b"/>
<path d="M372.81 539.82A227.20 227.45 0 0 1 379.17 508.83L384.76 510.38A221.40 221.67 0 0 0 378.56 540.59Z" fill="#c6232b"/>
<path d="M388.71 541.62A211.20 211.34 0 0 1 394.50 513.46L400.28 515.05A205.20 205.40 0 0 0 394.66 542.42Z" fill="#c6232b"/>
<path d="M403.22 543.21A196.60 197.11 0 0 1 408.48 517.56L414.08 519.02A190.80 191.63 0 0 0 408.97 543.96Z" fill="#c6232b"/>
<path d="M417.54 544.70A182.20 183.64 0 0 1 422.28 521.46L427.87 522.96A176.40 177.97 0 0 0 423.28 545.48Z" fill="#c6232b"/>
<path d="M430.76 546.17A168.90 170.42 0 0 1 435.02 525.28L440.81 526.86A162.90 164.37 0 0 0 436.70 547.01Z" fill="#c6232b"/>
<path d="M371.37 586.12A227.20 227.45 0 0 1 371.76 549.09L377.54 549.62A221.40 221.67 0 0 0 377.16 585.71Z" fill="#c6232b"/>
<path d="M388.12 593.56A211.20 211.34 0 0 1 387.66 550.90L393.64 551.44A205.20 205.40 0 0 0 394.08 592.90Z" fill="#c6232b"/>
<path d="M402.63 591.97A196.60 197.11 0 0 1 402.18 552.52L407.95 553.00A190.80 191.63 0 0 0 408.39 591.36Z" fill="#c6232b"/>
<path d="M416.94 590.47A182.20 183.64 0 0 1 416.49 554.06L422.27 554.55A176.40 177.97 0 0 0 422.70 589.84Z" fill="#c6232b"/>
<path d="M430.15 589.00A168.90 170.42 0 0 1 429.71 555.56L435.69 556.07A162.90 164.37 0 0 0 436.12 588.32Z" fill="#c6232b"/>
<path d="M357.41 582.19A240.90 241.00 0 0 1 357.36 558.86L363.35 559.13A234.90 235.04 0 0 0 363.40 581.89Z" fill="#c6232b"/>
<path d="M450.49 579.36A147.80 149.13 0 0 1 455.24 531.40L460.74 532.90A142.10 143.36 0 0 0 456.18 579.00Z" fill="#c6232b"/>
<path d="M464.26 578.49A134.00 135.14 0 0 1 468.46 535.43L474.06 536.94A128.20 129.26 0 0 0 470.05 578.12Z" fill="#c6232b"/>
<path d="M478.84 577.56A119.40 120.33 0 0 1 482.45 539.70L488.06 541.21A113.60 114.31 0 0 0 484.62 577.18Z" fill="#c6232b"/>
<path d="M492.91 576.63A105.30 105.58 0 0 1 495.96 543.93L501.58 545.41A99.50 99.60 0 0 0 498.70 576.25Z" fill="#c6232b"/>
<path d="M506.38 575.77A91.80 91.88 0 0 1 508.90 547.89L514.53 549.28A86.00 86.06 0 0 0 512.17 575.40Z" fill="#c6232b"/>
<path d="M696.92 399.66A196.60 197.11 0 0 1 704.23 404.15L701.10 408.76A190.80 191.63 0 0 0 694.00 404.40Z" fill="#c6232b"/>
<path d="M710.93 408.65A196.60 197.11 0 0 1 717.83 413.74L714.30 418.08A190.80 191.63 0 0 0 707.59 413.14Z" fill="#c6232b"/>
<path d="M730.39 424.28A196.60 197.11 0 0 1 736.60 430.20L732.51 434.09A190.80 191.63 0 0 0 726.48 428.33Z" fill="#c6232b"/>
<path d="M709.65 424.87A182.20 183.64 0 0 1 717.43 431.31L713.63 435.60A176.40 177.97 0 0 0 706.09 429.35Z" fill="#c6232b"/>
<path d="M686.59 424.90A168.90 170.42 0 0 1 694.34 430.02L690.92 434.99A162.90 164.37 0 0 0 683.45 430.06Z" fill="#c6232b"/>
<path d="M715.04 447.13A168.90 170.42 0 0 1 721.54 453.79L717.15 457.92A162.90 164.37 0 0 0 710.88 451.49Z" fill="#c6232b"/>
<path d="M685.24 449.62A147.80 149.13 0 0 1 692.55 455.38L688.90 459.81A142.10 143.36 0 0 0 681.87 454.28Z" fill="#c6232b"/>
<path d="M699.11 461.23A147.80 149.13 0 0 1 705.68 467.85L701.52 471.80A142.10 143.36 0 0 0 695.22 465.44Z" fill="#c6232b"/>
<path d="M656.59 448.46A134.00 135.14 0 0 1 665.11 453.03L662.21 458.12A128.20 129.26 0 0 0 654.06 453.75Z" fill="#c6232b"/>
<path d="M652.42 479.62A105.30 105.58 0 0 1 660.13 484.76L656.71 489.58A99.50 99.60 0 0 0 649.42 484.73Z" fill="#c6232b"/>
<path d="M639.18 487.89A91.80 91.88 0 0 1 656.08 498.84L652.41 503.35A86.00 86.06 0 0 0 636.58 493.08Z" fill="#c6232b"/>
<path d="M640.73 503.75A78.80 78.85 0 0 1 647.61 508.74L644.15 513.02A73.30 73.33 0 0 0 637.75 508.39Z" fill="#c6232b"/>
<path d="M782.22 414.70A240.90 241.00 0 0 1 827.45 496.59L821.74 498.40A234.90 235.04 0 0 0 777.63 418.54Z" fill="#c6232b"/>
<path d="M771.92 423.65A227.20 227.45 0 0 1 814.33 500.47L808.80 502.24A221.40 221.67 0 0 0 767.48 427.37Z" fill="#c6232b"/>
<path d="M759.90 434.29A211.20 211.34 0 0 1 799.00 505.10L793.29 506.93A205.20 205.40 0 0 0 755.30 438.10Z" fill="#c6232b"/>
<path d="M748.93 443.70A196.60 197.11 0 0 1 785.01 509.18L779.49 510.87A190.80 191.63 0 0 0 744.48 447.21Z" fill="#c6232b"/>
<path d="M738.12 452.61A182.20 183.64 0 0 1 771.21 513.03L765.70 514.78A176.40 177.97 0 0 0 733.66 456.23Z" fill="#c6232b"/>
<path d="M728.13 461.35A168.90 170.42 0 0 1 758.46 516.81L752.76 518.70A162.90 164.37 0 0 0 723.50 465.21Z" fill="#c6232b"/>
<path d="M712.27 475.42A147.80 149.13 0 0 1 717.77 482.62L713.15 486.00A142.10 143.36 0 0 0 707.86 479.08Z" fill="#c6232b"/>
<path d="M722.69 489.93A147.80 149.13 0 0 1 738.24 522.93L732.84 524.75A142.10 143.36 0 0 0 717.88 493.03Z" fill="#c6232b"/>
<path d="M701.90 484.66A134.00 135.14 0 0 1 725.02 526.94L719.52 528.81A128.20 129.26 0 0 0 697.41 488.38Z" fill="#c6232b"/>
<path d="M690.94 494.45A119.40 120.33 0 0 1 711.02 531.19L705.53 533.13A113.60 114.31 0 0 0 686.42 498.23Z" fill="#c6232b"/>
<path d="M685.47 511.22A105.30 105.58 0 0 1 697.50 535.44L692.02 537.40A99.50 99.60 0 0 0 680.65 514.54Z" fill="#c6232b"/>
<path d="M670.20 513.26A91.80 91.88 0 0 1 684.55 539.37L679.08 541.31A86.00 86.06 0 0 0 665.64 516.85Z" fill="#c6232b"/>
<path d="M660.43 521.89A78.80 78.85 0 0 1 672.08 543.11L666.91 544.99A73.30 73.33 0 0 0 656.07 525.25Z" fill="#c6232b"/>
<path d="M829.95 504.93A240.90 241.00 0 0 1 836.81 538.30L830.86 539.08A234.90 235.04 0 0 0 824.18 506.54Z" fill="#c6232b"/>
<path d="M816.83 508.83A227.20 227.45 0 0 1 823.19 539.82L817.44 540.59A221.40 221.67 0 0 0 811.24 510.38Z" fill="#c6232b"/>
<path d="M801.50 513.46A211.20 211.34 0 0 1 807.29 541.62L801.34 542.42A205.20 205.40 0 0 0 795.72 515.05Z" fill="#c6232b"/>
<path d="M787.52 517.56A196.60 197.11 0 0 1 792.78 543.21L787.03 543.96A190.80 191.63 0 0 0 781.92 519.02Z" fill="#c6232b"/>
<path d="M773.72 521.46A182.20 183.64 0 0 1 778.46 544.70L772.72 545.48A176.40 177.97 0 0 0 768.13 522.96Z" fill="#c6232b"/>
<path d="M760.98 525.28A168.90 170.42 0 0 1 765.24 546.17L759.30 547.01A162.90 164.37 0 0 0 755.19 526.86Z" fill="#c6232b"/>
<path d="M824.24 549.09A227.20 227.45 0 0 1 823.78 595.35L818.02 594.71A221.40 221.67 0 0 0 818.46 549.62Z" fill="#c6232b"/>
<path d="M808.34 550.90A211.20 211.34 0 0 1 807.88 593.56L801.92 592.90A205.20 205.40 0 0 0 802.36 551.44Z" fill="#c6232b"/>
<path d="M793.82 552.52A196.60 197.11 0 0 1 793.37 591.97L787.61 591.36A190.80 191.63 0 0 0 788.05 553.00Z" fill="#c6232b"/>
<path d="M779.51 554.06A182.20 183.64 0 0 1 779.06 590.47L773.30 589.84A176.40 177.97 0 0 0 773.73 554.55Z" fill="#c6232b"/>
<path d="M766.29 555.56A168.90 170.42 0 0 1 765.85 589.00L759.88 588.32A162.90 164.37 0 0 0 760.31 556.07Z" fill="#c6232b"/>
<path d="M838.64 558.86A240.90 241.00 0 0 1 838.59 582.19L832.60 581.89A234.90 235.04 0 0 0 832.65 559.13Z" fill="#c6232b"/>
<path d="M740.76 531.40A147.80 149.13 0 0 1 745.51 579.36L739.82 579.00A142.10 143.36 0 0 0 735.26 532.90Z" fill="#c6232b"/>
<path d="M727.54 535.43A134.00 135.14 0 0 1 731.74 578.49L725.95 578.12A128.20 129.26 0 0 0 721.94 536.94Z" fill="#c6232b"/>
<path d="M713.55 539.70A119.40 120.33 0 0 1 717.16 577.56L711.38 577.18A113.60 114.31 0 0 0 707.94 541.21Z" fill="#c6232b"/>
<path d="M700.04 543.93A105.30 105.58 0 0 1 703.09 576.63L697.30 576.25A99.50 99.60 0 0 0 694.42 545.41Z" fill="#c6232b"/>
<path d="M687.10 547.89A91.80 91.88 0 0 1 689.62 575.77L683.83 575.40A86.00 86.06 0 0 0 681.47 549.28Z" fill="#c6232b"/>
</g>
<g class="sep" stroke="#ffffff" stroke-opacity="0.28" stroke-width="0.7" fill="none">
<path d="M584.79 329.66L585.08 335.02"/>
<path d="M576.24 330.29L576.73 335.62"/>
<path d="M567.72 331.21L568.40 336.53"/>
<path d="M559.24 332.44L560.11 337.73"/>
<path d="M550.81 333.97L551.87 339.23"/>
<path d="M542.44 335.81L543.69 341.02"/>
<path d="M534.14 337.93L535.58 343.10"/>
<path d="M525.92 340.35L527.54 345.47"/>
<path d="M517.80 343.07L519.60 348.12"/>
<path d="M509.77 346.07L511.75 351.05"/>
<path d="M584.50 343.24L584.81 348.42"/>
<path d="M575.68 343.94L576.19 349.11"/>
<path d="M566.89 344.99L567.61 350.12"/>
<path d="M558.15 346.37L559.06 351.48"/>
<path d="M549.47 348.10L550.58 353.17"/>
<path d="M540.86 350.16L542.17 355.18"/>
<path d="M532.34 352.56L533.85 357.52"/>
<path d="M523.92 355.29L525.62 360.19"/>
<path d="M515.62 358.34L517.51 363.18"/>
<path d="M584.26 359.41L584.61 364.75"/>
<path d="M575.21 360.20L575.79 365.52"/>
<path d="M566.20 361.38L567.01 366.66"/>
<path d="M557.25 362.94L558.29 368.19"/>
<path d="M548.37 364.89L549.64 370.09"/>
<path d="M539.59 367.22L541.09 372.36"/>
<path d="M530.91 369.92L532.63 374.99"/>
<path d="M522.36 373.00L524.30 377.99"/>
<path d="M584.94 373.62L585.29 378.52"/>
<path d="M576.57 374.36L577.14 379.24"/>
<path d="M568.23 375.46L569.02 380.31"/>
<path d="M559.95 376.91L560.96 381.73"/>
<path d="M551.74 378.72L552.97 383.50"/>
<path d="M543.62 380.89L545.06 385.60"/>
<path d="M535.59 383.39L537.25 388.05"/>
<path d="M527.68 386.24L529.55 390.83"/>
<path d="M584.64 387.13L585.02 392.20"/>
<path d="M575.98 387.98L576.61 393.03"/>
<path d="M567.37 389.25L568.25 394.27"/>
<path d="M558.84 390.94L559.95 395.90"/>
<path d="M550.39 393.03L551.75 397.94"/>
<path d="M542.05 395.53L543.64 400.37"/>
<path d="M533.83 398.42L535.67 403.18"/>
<path d="M584.19 400.45L584.64 405.88"/>
<path d="M575.10 401.46L575.84 406.85"/>
<path d="M566.08 402.96L567.10 408.30"/>
<path d="M557.15 404.95L558.46 410.23"/>
<path d="M548.34 407.43L549.93 412.63"/>
<path d="M539.68 410.38L541.55 415.49"/>
<path d="M584.14 421.83L584.62 426.97"/>
<path d="M575.02 422.99L575.82 428.09"/>
<path d="M565.99 424.72L567.10 429.76"/>
<path d="M557.09 427.02L558.50 431.97"/>
<path d="M548.34 429.87L550.05 434.73"/>
<path d="M585.10 435.79L585.60 441.04"/>
<path d="M576.94 436.84L577.76 442.05"/>
<path d="M568.86 438.40L570.00 443.55"/>
<path d="M560.89 440.46L562.34 445.53"/>
<path d="M553.06 443.01L554.81 447.97"/>
<path d="M584.68 450.72L585.26 456.09"/>
<path d="M576.13 452.01L577.09 457.32"/>
<path d="M567.70 453.92L569.02 459.14"/>
<path d="M559.43 456.44L561.11 461.55"/>
<path d="M584.00 465.67L584.69 470.99"/>
<path d="M574.83 467.33L575.98 472.56"/>
<path d="M565.84 469.79L567.43 474.90"/>
<path d="M585.40 479.29L586.12 484.46"/>
<path d="M577.64 480.72L578.79 485.80"/>
<path d="M570.02 482.81L571.61 487.77"/>
<path d="M584.61 492.61L585.44 497.45"/>
<path d="M576.12 494.57L577.49 499.28"/>
<path d="M487.70 356.08L490.18 360.85"/>
<path d="M480.14 360.16L482.78 364.83"/>
<path d="M472.72 364.50L475.53 369.08"/>
<path d="M465.47 369.11L468.44 373.58"/>
<path d="M458.38 373.97L461.52 378.34"/>
<path d="M451.47 379.08L454.76 383.34"/>
<path d="M444.75 384.44L448.19 388.57"/>
<path d="M438.23 390.03L441.81 394.04"/>
<path d="M431.91 395.86L435.63 399.73"/>
<path d="M425.80 401.90L429.66 405.64"/>
<path d="M493.77 368.22L496.16 372.83"/>
<path d="M486.69 372.05L489.24 376.57"/>
<path d="M479.75 376.13L482.46 380.56"/>
<path d="M472.96 380.45L475.82 384.78"/>
<path d="M466.32 385.01L469.34 389.23"/>
<path d="M459.85 389.80L463.01 393.92"/>
<path d="M453.55 394.82L456.86 398.82"/>
<path d="M447.44 400.06L450.89 403.94"/>
<path d="M441.51 405.51L445.10 409.27"/>
<path d="M435.78 411.17L439.50 414.80"/>
<path d="M500.20 383.02L502.71 387.76"/>
<path d="M493.05 386.95L495.74 391.59"/>
<path d="M486.06 391.14L488.93 395.67"/>
<path d="M479.24 395.61L482.28 400.02"/>
<path d="M472.59 400.33L475.80 404.63"/>
<path d="M466.13 405.31L469.50 409.48"/>
<path d="M459.86 410.53L463.40 414.57"/>
<path d="M453.81 415.99L457.50 419.90"/>
<path d="M447.97 421.69L451.81 425.44"/>
<path d="M505.99 396.14L508.42 400.48"/>
<path d="M498.69 400.22L501.33 404.46"/>
<path d="M491.58 404.61L494.40 408.74"/>
<path d="M484.66 409.30L487.67 413.31"/>
<path d="M477.95 414.28L481.13 418.16"/>
<path d="M471.45 419.54L474.81 423.29"/>
<path d="M465.19 425.07L468.70 428.69"/>
<path d="M459.16 430.87L462.84 434.34"/>
<path d="M511.64 408.62L514.10 413.10"/>
<path d="M504.16 412.92L506.84 417.28"/>
<path d="M496.89 417.57L499.78 421.80"/>
<path d="M489.85 422.56L492.95 426.65"/>
<path d="M483.06 427.88L486.34 431.83"/>
<path d="M476.52 433.52L479.99 437.31"/>
<path d="M470.25 439.47L473.90 443.09"/>
<path d="M516.71 420.96L519.32 425.73"/>
<path d="M508.94 425.55L511.80 430.17"/>
<path d="M501.43 430.55L504.52 435.02"/>
<path d="M494.19 435.95L497.51 440.24"/>
<path d="M487.25 441.74L490.79 445.84"/>
<path d="M480.62 447.88L484.38 451.79"/>
<path d="M525.37 440.47L527.88 444.96"/>
<path d="M517.71 445.16L520.48 449.49"/>
<path d="M510.34 450.31L513.37 454.46"/>
<path d="M503.29 455.91L506.57 459.86"/>
<path d="M496.60 461.92L500.10 465.67"/>
<path d="M531.89 452.80L534.46 457.38"/>
<path d="M525.09 456.97L527.93 461.40"/>
<path d="M518.55 461.55L521.64 465.79"/>
<path d="M512.30 466.51L515.63 470.56"/>
<path d="M506.34 471.83L509.91 475.67"/>
<path d="M537.59 466.56L540.23 471.21"/>
<path d="M530.61 471.03L533.56 475.48"/>
<path d="M523.96 475.98L527.20 480.21"/>
<path d="M517.67 481.38L521.18 485.37"/>
<path d="M542.92 480.38L545.65 484.95"/>
<path d="M535.64 485.31L538.73 489.63"/>
<path d="M528.80 490.83L532.22 494.87"/>
<path d="M547.67 493.52L550.53 497.87"/>
<path d="M539.84 499.30L543.14 503.33"/>
<path d="M554.63 504.53L557.34 508.62"/>
<path d="M548.33 509.18L551.43 512.98"/>
<path d="M407.80 422.58L412.07 425.87"/>
<path d="M402.77 429.32L407.15 432.46"/>
<path d="M397.97 436.24L402.46 439.22"/>
<path d="M393.42 443.31L398.01 446.14"/>
<path d="M389.12 450.55L393.81 453.21"/>
<path d="M385.07 457.92L389.85 460.42"/>
<path d="M381.29 465.44L386.15 467.76"/>
<path d="M377.77 473.08L382.71 475.24"/>
<path d="M374.52 480.84L379.53 482.82"/>
<path d="M371.54 488.71L376.62 490.52"/>
<path d="M418.01 431.69L422.13 434.85"/>
<path d="M412.86 438.68L417.10 441.67"/>
<path d="M407.98 445.85L412.34 448.69"/>
<path d="M403.38 453.21L407.84 455.88"/>
<path d="M399.07 460.75L403.63 463.24"/>
<path d="M395.04 468.44L399.69 470.75"/>
<path d="M391.31 476.27L396.05 478.41"/>
<path d="M387.89 484.25L392.70 486.21"/>
<path d="M384.77 492.35L389.65 494.12"/>
<path d="M429.99 442.44L434.29 445.67"/>
<path d="M424.77 449.63L429.20 452.68"/>
<path d="M419.86 457.04L424.42 459.90"/>
<path d="M415.26 464.64L419.94 467.31"/>
<path d="M410.99 472.44L415.78 474.91"/>
<path d="M407.05 480.40L411.94 482.67"/>
<path d="M403.45 488.53L408.43 490.59"/>
<path d="M400.19 496.80L405.26 498.65"/>
<path d="M441.45 451.25L445.60 454.22"/>
<path d="M436.65 457.91L440.92 460.71"/>
<path d="M432.12 464.76L436.51 467.39"/>
<path d="M427.88 471.79L432.39 474.24"/>
<path d="M423.94 479.00L428.55 481.27"/>
<path d="M420.31 486.36L425.01 488.45"/>
<path d="M416.98 493.87L421.78 495.77"/>
<path d="M413.97 501.51L418.84 503.22"/>
<path d="M452.20 460.36L456.36 463.41"/>
<path d="M447.30 467.31L451.61 470.16"/>
<path d="M442.73 474.49L447.17 477.14"/>
<path d="M438.49 481.86L443.05 484.31"/>
<path d="M434.60 489.43L439.27 491.67"/>
<path d="M431.06 497.17L435.83 499.19"/>
<path d="M427.89 505.07L432.75 506.87"/>
<path d="M462.03 469.41L466.38 472.63"/>
<path d="M456.98 476.76L461.50 479.74"/>
<path d="M452.32 484.36L456.99 487.10"/>
<path d="M448.07 492.20L452.87 494.69"/>
<path d="M444.22 500.25L449.15 502.48"/>
<path d="M440.81 508.49L445.84 510.46"/>
<path d="M478.03 483.41L482.18 486.42"/>
<path d="M473.11 490.82L477.43 493.57"/>
<path d="M468.63 498.52L473.10 501.00"/>
<path d="M464.62 506.47L469.23 508.67"/>
<path d="M461.08 514.65L465.82 516.57"/>
<path d="M488.16 493.12L492.43 496.13"/>
<path d="M483.06 501.13L487.53 503.82"/>
<path d="M478.53 509.48L483.17 511.84"/>
<path d="M474.59 518.13L479.39 520.16"/>
<path d="M499.96 501.85L504.24 504.92"/>
<path d="M495.54 508.81L500.01 511.56"/>
<path d="M491.60 516.06L496.25 518.49"/>
<path d="M488.17 523.56L492.97 525.65"/>
<path d="M510.37 512.00L514.71 514.96"/>
<path d="M505.86 519.52L510.42 522.09"/>
<path d="M501.99 527.38L506.74 529.56"/>
<path d="M520.14 521.90L524.56 524.64"/>
<path d="M515.47 530.46L520.16 532.71"/>
<path d="M531.06 528.98L535.24 531.54"/>
<path d="M527.27 535.92L531.69 538.05"/>
<path d="M364.18 513.25L369.43 514.51"/>
<path d="M362.32 521.55L367.61 522.63"/>
<path d="M360.76 529.92L366.08 530.82"/>
<path d="M377.47 516.56L382.52 517.78"/>
<path d="M375.74 524.27L380.84 525.32"/>
<path d="M374.29 532.04L379.42 532.91"/>
<path d="M392.44 522.83L397.70 524.02"/>
<path d="M390.51 532.21L395.82 533.17"/>
<path d="M406.65 526.10L411.71 527.19"/>
<path d="M404.89 534.64L410.01 535.52"/>
<path d="M420.66 529.20L425.73 530.33"/>
<path d="M419.08 536.93L424.20 537.85"/>
<path d="M432.86 535.71L438.15 536.81"/>
<path d="M371.40 558.35L376.59 558.62"/>
<path d="M371.11 567.60L376.31 567.66"/>
<path d="M371.20 576.86L376.40 576.70"/>
<path d="M371.67 586.10L376.86 585.74"/>
<path d="M387.36 559.44L392.76 559.71"/>
<path d="M387.11 567.97L392.51 568.02"/>
<path d="M387.20 576.51L392.60 576.34"/>
<path d="M387.64 585.03L393.02 584.65"/>
<path d="M401.85 562.39L407.04 562.58"/>
<path d="M401.71 572.25L406.91 572.20"/>
<path d="M402.07 582.11L407.26 581.81"/>
<path d="M416.23 563.17L421.42 563.36"/>
<path d="M416.11 572.27L421.31 572.21"/>
<path d="M416.45 581.37L421.64 581.05"/>
<path d="M429.51 563.93L434.90 564.12"/>
<path d="M429.42 572.28L434.81 572.21"/>
<path d="M429.73 580.64L435.12 580.30"/>
<path d="M357.42 566.64L362.82 566.71"/>
<path d="M357.44 574.41L362.84 574.31"/>
<path d="M453.67 539.31L458.66 540.38"/>
<path d="M452.24 547.23L457.28 548.02"/>
<path d="M451.23 555.22L456.30 555.73"/>
<path d="M450.65 563.25L455.75 563.48"/>
<path d="M450.51 571.30L455.61 571.25"/>
<path d="M466.82 543.96L471.92 544.98"/>
<path d="M465.43 552.51L470.59 553.20"/>
<path d="M464.59 561.14L469.78 561.49"/>
<path d="M464.30 569.80L469.50 569.81"/>
<path d="M480.72 549.08L485.84 550.02"/>
<path d="M479.45 558.51L484.62 559.03"/>
<path d="M478.92 568.02L484.12 568.11"/>
<path d="M494.54 552.05L499.66 552.96"/>
<path d="M493.46 560.19L498.63 560.69"/>
<path d="M493.01 568.40L498.21 568.48"/>
<path d="M507.41 557.12L512.56 557.85"/>
<path d="M506.57 566.42L511.77 566.62"/>
<path d="M609.93 329.60L609.66 334.95"/>
<path d="M618.61 330.18L618.15 335.52"/>
<path d="M627.26 331.09L626.60 336.41"/>
<path d="M635.87 332.30L635.02 337.59"/>
<path d="M644.44 333.83L643.39 339.08"/>
<path d="M652.94 335.66L651.71 340.88"/>
<path d="M661.37 337.80L659.95 342.97"/>
<path d="M669.72 340.24L668.11 345.36"/>
<path d="M677.97 342.99L676.18 348.04"/>
<path d="M686.12 346.03L684.15 351.01"/>
<path d="M610.22 343.17L609.94 348.35"/>
<path d="M619.18 343.83L618.69 349.00"/>
<path d="M628.10 344.85L627.41 349.99"/>
<path d="M636.98 346.22L636.09 351.33"/>
<path d="M645.80 347.94L644.71 353.01"/>
<path d="M654.54 350.01L653.25 355.03"/>
<path d="M663.20 352.42L661.71 357.39"/>
<path d="M671.75 355.18L670.06 360.08"/>
<path d="M680.19 358.27L678.31 363.10"/>
<path d="M609.54 359.28L609.24 364.62"/>
<path d="M617.82 359.90L617.31 365.22"/>
<path d="M626.07 360.84L625.35 366.14"/>
<path d="M634.27 362.11L633.34 367.38"/>
<path d="M642.42 363.70L641.28 368.92"/>
<path d="M650.50 365.61L649.16 370.79"/>
<path d="M658.50 367.83L656.95 372.96"/>
<path d="M666.40 370.37L664.65 375.43"/>
<path d="M674.20 373.22L672.25 378.21"/>
<path d="M609.77 373.54L609.46 378.44"/>
<path d="M618.27 374.23L617.74 379.12"/>
<path d="M626.74 375.30L625.98 380.16"/>
<path d="M635.15 376.74L634.17 381.56"/>
<path d="M643.50 378.54L642.29 383.32"/>
<path d="M651.75 380.70L650.33 385.43"/>
<path d="M659.91 383.23L658.27 387.89"/>
<path d="M667.94 386.10L666.09 390.69"/>
<path d="M610.07 387.04L609.73 392.12"/>
<path d="M618.87 387.85L618.27 392.90"/>
<path d="M627.61 389.08L626.77 394.10"/>
<path d="M636.29 390.74L635.20 395.72"/>
<path d="M644.88 392.83L643.54 397.75"/>
<path d="M653.35 395.33L651.77 400.18"/>
<path d="M661.70 398.25L659.88 403.01"/>
<path d="M609.37 400.27L609.00 405.70"/>
<path d="M617.46 401.02L616.83 406.43"/>
<path d="M625.50 402.16L624.62 407.53"/>
<path d="M633.48 403.69L632.34 409.01"/>
<path d="M641.38 405.61L639.99 410.87"/>
<path d="M649.17 407.91L647.54 413.10"/>
<path d="M656.85 410.58L654.97 415.69"/>
<path d="M610.57 421.72L610.14 426.86"/>
<path d="M619.84 422.82L619.09 427.92"/>
<path d="M629.02 424.50L627.95 429.55"/>
<path d="M638.08 426.77L636.69 431.74"/>
<path d="M646.97 429.62L645.28 434.49"/>
<path d="M609.60 435.67L609.15 440.92"/>
<path d="M617.89 436.66L617.12 441.88"/>
<path d="M626.10 438.17L625.01 443.33"/>
<path d="M634.21 440.20L632.80 445.28"/>
<path d="M642.17 442.73L640.45 447.71"/>
<path d="M610.03 450.58L609.50 455.95"/>
<path d="M618.71 451.80L617.81 457.12"/>
<path d="M627.29 453.66L626.01 458.89"/>
<path d="M635.71 456.14L634.06 461.27"/>
<path d="M610.71 465.51L610.08 470.84"/>
<path d="M620.04 467.08L618.95 472.33"/>
<path d="M629.19 469.48L627.64 474.61"/>
<path d="M609.28 479.12L608.64 484.29"/>
<path d="M617.19 480.46L616.09 485.55"/>
<path d="M624.94 482.48L623.41 487.46"/>
<path d="M610.09 492.39L609.34 497.24"/>
<path d="M618.73 494.24L617.44 498.98"/>
<path d="M708.23 356.05L705.76 360.81"/>
<path d="M715.72 360.08L713.08 364.75"/>
<path d="M723.06 364.37L720.26 368.95"/>
<path d="M730.25 368.92L727.28 373.40"/>
<path d="M737.27 373.72L734.14 378.09"/>
<path d="M744.11 378.77L740.84 383.03"/>
<path d="M750.78 384.05L747.35 388.19"/>
<path d="M757.25 389.57L753.68 393.59"/>
<path d="M763.53 395.31L759.81 399.20"/>
<path d="M769.59 401.28L765.74 405.03"/>
<path d="M702.80 368.53L700.40 373.13"/>
<path d="M710.51 372.73L707.93 377.24"/>
<path d="M718.04 377.23L715.29 381.64"/>
<path d="M725.39 382.02L722.47 386.32"/>
<path d="M732.55 387.09L729.47 391.27"/>
<path d="M739.52 392.44L736.27 396.49"/>
<path d="M746.27 398.05L742.87 401.97"/>
<path d="M752.80 403.91L749.25 407.71"/>
<path d="M759.09 410.03L755.40 413.68"/>
<path d="M696.38 383.33L693.86 388.06"/>
<path d="M704.24 387.70L701.52 392.32"/>
<path d="M711.91 392.40L709.00 396.90"/>
<path d="M719.38 397.42L716.27 401.79"/>
<path d="M726.62 402.75L723.32 406.99"/>
<path d="M733.63 408.39L730.15 412.48"/>
<path d="M740.39 414.32L736.74 418.27"/>
<path d="M746.89 420.54L743.08 424.32"/>
<path d="M689.73 395.99L687.30 400.34"/>
<path d="M696.99 400.04L694.37 404.28"/>
<path d="M704.07 404.39L701.26 408.52"/>
<path d="M710.96 409.03L707.97 413.05"/>
<path d="M717.65 413.97L714.48 417.86"/>
<path d="M724.12 419.18L720.78 422.94"/>
<path d="M730.37 424.66L726.87 428.29"/>
<path d="M736.38 430.41L732.72 433.89"/>
<path d="M685.09 409.02L682.60 413.49"/>
<path d="M693.57 413.98L690.84 418.31"/>
<path d="M701.77 419.40L698.80 423.58"/>
<path d="M709.66 425.25L706.47 429.27"/>
<path d="M717.24 431.53L713.83 435.37"/>
<path d="M724.46 438.20L720.85 441.86"/>
<path d="M678.88 420.73L676.29 425.51"/>
<path d="M686.65 425.30L683.81 429.93"/>
<path d="M694.17 430.27L691.09 434.75"/>
<path d="M701.42 435.65L698.11 439.95"/>
<path d="M708.38 441.40L704.84 445.52"/>
<path d="M715.01 447.52L711.27 451.45"/>
<path d="M670.14 440.19L667.65 444.69"/>
<path d="M677.85 444.87L675.09 449.21"/>
<path d="M685.27 450.02L682.25 454.18"/>
<path d="M692.36 455.61L689.09 459.58"/>
<path d="M699.09 461.63L695.60 465.39"/>
<path d="M664.96 453.29L662.36 457.86"/>
<path d="M673.11 458.45L670.19 462.82"/>
<path d="M680.88 464.19L677.65 468.33"/>
<path d="M688.21 470.48L684.70 474.37"/>
<path d="M659.63 467.29L656.94 471.91"/>
<path d="M668.35 473.15L665.28 477.50"/>
<path d="M676.52 479.75L673.10 483.81"/>
<path d="M652.48 480.01L649.79 484.60"/>
<path d="M659.95 485.01L656.88 489.34"/>
<path d="M666.97 490.62L663.55 494.67"/>
<path d="M647.77 493.15L644.94 497.53"/>
<path d="M655.89 499.08L652.60 503.11"/>
<path d="M640.79 504.15L638.11 508.26"/>
<path d="M647.42 508.97L644.33 512.79"/>
<path d="M787.38 421.53L783.13 424.84"/>
<path d="M792.53 428.35L788.16 431.50"/>
<path d="M797.43 435.35L792.96 438.35"/>
<path d="M802.08 442.52L797.50 445.36"/>
<path d="M806.48 449.85L801.80 452.53"/>
<path d="M810.61 457.33L805.84 459.84"/>
<path d="M814.48 464.95L809.62 467.29"/>
<path d="M818.07 472.71L813.13 474.88"/>
<path d="M821.39 480.59L816.37 482.58"/>
<path d="M824.42 488.58L819.34 490.40"/>
<path d="M777.23 430.70L773.12 433.88"/>
<path d="M782.50 437.77L778.27 440.79"/>
<path d="M787.49 445.04L783.14 447.90"/>
<path d="M792.19 452.50L787.74 455.18"/>
<path d="M796.60 460.14L792.05 462.65"/>
<path d="M800.71 467.94L796.06 470.27"/>
<path d="M804.51 475.89L799.78 478.04"/>
<path d="M808.01 483.99L803.19 485.96"/>
<path d="M811.18 492.22L806.30 494.00"/>
<path d="M765.32 441.53L761.04 444.79"/>
<path d="M770.66 448.81L766.24 451.88"/>
<path d="M775.68 456.31L771.13 459.19"/>
<path d="M780.38 464.02L775.71 466.71"/>
<path d="M784.74 471.93L779.96 474.41"/>
<path d="M788.77 480.01L783.88 482.29"/>
<path d="M792.44 488.26L787.46 490.33"/>
<path d="M795.76 496.66L790.69 498.52"/>
<path d="M753.90 450.40L749.77 453.39"/>
<path d="M758.82 457.14L754.56 459.96"/>
<path d="M763.45 464.08L759.07 466.73"/>
<path d="M767.78 471.21L763.29 473.68"/>
<path d="M771.81 478.52L767.21 480.81"/>
<path d="M775.52 486.00L770.82 488.09"/>
<path d="M778.92 493.62L774.12 495.53"/>
<path d="M781.98 501.39L777.11 503.10"/>
<path d="M743.22 459.58L739.07 462.64"/>
<path d="M748.23 466.62L743.94 469.49"/>
<path d="M752.91 473.89L748.48 476.55"/>
<path d="M757.24 481.37L752.69 483.83"/>
<path d="M761.22 489.05L756.55 491.30"/>
<path d="M764.83 496.92L760.06 498.94"/>
<path d="M768.07 504.94L763.20 506.75"/>
<path d="M733.45 468.70L729.11 471.94"/>
<path d="M738.61 476.14L734.11 479.14"/>
<path d="M743.38 483.85L738.72 486.60"/>
<path d="M747.73 491.80L742.94 494.30"/>
<path d="M751.66 499.98L746.73 502.22"/>
<path d="M755.14 508.35L750.11 510.33"/>
<path d="M717.53 482.80L713.40 485.82"/>
<path d="M722.57 490.31L718.27 493.07"/>
<path d="M727.15 498.12L722.69 500.61"/>
<path d="M731.26 506.19L726.65 508.41"/>
<path d="M734.86 514.51L730.13 516.43"/>
<path d="M706.54 491.26L702.32 494.34"/>
<path d="M711.01 497.95L706.62 500.77"/>
<path d="M715.08 504.90L710.53 507.45"/>
<path d="M718.74 512.08L714.04 514.35"/>
<path d="M721.96 519.47L717.14 521.44"/>
<path d="M695.71 501.37L691.44 504.46"/>
<path d="M700.24 508.43L695.77 511.20"/>
<path d="M704.26 515.80L699.63 518.24"/>
<path d="M707.77 523.43L702.98 525.52"/>
<path d="M685.36 511.60L681.03 514.58"/>
<path d="M689.98 519.24L685.43 521.82"/>
<path d="M693.95 527.24L689.19 529.42"/>
<path d="M675.67 521.58L671.25 524.34"/>
<path d="M680.45 530.29L675.77 532.55"/>
<path d="M664.78 528.71L660.61 531.29"/>
<path d="M668.66 535.78L664.25 537.92"/>
<path d="M831.82 513.25L826.57 514.51"/>
<path d="M833.68 521.55L828.39 522.63"/>
<path d="M835.24 529.92L829.92 530.82"/>
<path d="M818.53 516.56L813.48 517.78"/>
<path d="M820.26 524.27L815.16 525.32"/>
<path d="M821.71 532.04L816.58 532.91"/>
<path d="M803.56 522.83L798.30 524.02"/>
<path d="M805.49 532.21L800.18 533.17"/>
<path d="M789.35 526.10L784.29 527.19"/>
<path d="M791.11 534.64L785.99 535.52"/>
<path d="M775.34 529.20L770.27 530.33"/>
<path d="M776.92 536.93L771.80 537.85"/>
<path d="M763.14 535.71L757.85 536.81"/>
<path d="M824.60 558.35L819.41 558.62"/>
<path d="M824.89 567.60L819.69 567.66"/>
<path d="M824.80 576.86L819.60 576.70"/>
<path d="M824.33 586.10L819.14 585.74"/>
<path d="M808.64 559.44L803.24 559.71"/>
<path d="M808.89 567.97L803.49 568.02"/>
<path d="M808.80 576.51L803.40 576.34"/>
<path d="M808.36 585.03L802.98 584.65"/>
<path d="M794.15 562.39L788.96 562.58"/>
<path d="M794.29 572.25L789.09 572.20"/>
<path d="M793.93 582.11L788.74 581.81"/>
<path d="M779.77 563.17L774.58 563.36"/>
<path d="M779.89 572.27L774.69 572.21"/>
<path d="M779.55 581.37L774.36 581.05"/>
<path d="M766.49 563.93L761.10 564.12"/>
<path d="M766.58 572.28L761.19 572.21"/>
<path d="M766.27 580.64L760.88 580.30"/>
<path d="M838.58 566.64L833.18 566.71"/>
<path d="M838.56 574.41L833.16 574.31"/>
<path d="M742.33 539.31L737.34 540.38"/>
<path d="M743.76 547.23L738.72 548.02"/>
<path d="M744.77 555.22L739.70 555.73"/>
<path d="M745.35 563.25L740.25 563.48"/>
<path d="M745.49 571.30L740.39 571.25"/>
<path d="M729.18 543.96L724.08 544.98"/>
<path d="M730.57 552.51L725.41 553.20"/>
<path d="M731.41 561.14L726.22 561.49"/>
<path d="M731.70 569.80L726.50 569.81"/>
<path d="M715.28 549.08L710.16 550.02"/>
<path d="M716.55 558.51L711.38 559.03"/>
<path d="M717.08 568.02L711.88 568.11"/>
<path d="M701.46 552.05L696.34 552.96"/>
<path d="M702.54 560.19L697.37 560.69"/>
<path d="M702.99 568.40L697.79 568.48"/>
<path d="M688.59 557.12L683.44 557.85"/>
<path d="M689.43 566.42L684.23 566.62"/>
</g>
</svg>
<svg class="layer ov" width="1200" height="675" viewBox="0 0 1200 675">
<g fill="#ffffff">
<path d="M1034.5 51.6L1081.2 64.6L1079 66.2V71H990V66.2L987.6 64.6Z"/>
<rect x="991.5" y="71" width="86.5" height="34.5" fill="#ffffff" opacity="0.35"/>
<rect x="992.5" y="72" width="4.8" height="33" rx="2.4" ry="9"/>
<rect x="1002.8" y="72" width="4.8" height="33" rx="2.4" ry="9"/>
<rect x="1012.6" y="72" width="4.8" height="33" rx="2.4" ry="9"/>
<rect x="1022.3" y="72" width="4.8" height="33" rx="2.4" ry="9"/>
<rect x="1032.1" y="72" width="4.8" height="33" rx="2.4" ry="9"/>
<rect x="1042.4" y="72" width="4.8" height="33" rx="2.4" ry="9"/>
<rect x="1052.1" y="72" width="4.8" height="33" rx="2.4" ry="9"/>
<rect x="1062.9" y="72" width="4.8" height="33" rx="2.4" ry="9"/>
<rect x="1072.7" y="72" width="4.8" height="33" rx="2.4" ry="9"/>
<path d="M991.5 106.4H1078.3L1091 113.6H978Z"/>
</g>
<line x1="598" y1="54.5" x2="598" y2="134.7" stroke="#1f4479" stroke-width="2.3" stroke-dasharray="5 2.85" stroke-dashoffset="1.6"/>
<line x1="598" y1="228.6" x2="598" y2="297" stroke="#1f4479" stroke-width="2.3" stroke-dasharray="5 2.85" stroke-dashoffset="1.4"/>
<path fill="#c10e0d" fill-rule="evenodd" d="M519.9 374.7a79 79 0 1 0 158 0a79 79 0 1 0 -158 0ZM575.4 354.2v41.4q0 3 2.7 1.7l42.6 -21q2.6 -1.4 0 -2.8l-42.6 -21q-2.7 -1.300 -2.7 1.700Z"/>
</svg>

</body></html>
